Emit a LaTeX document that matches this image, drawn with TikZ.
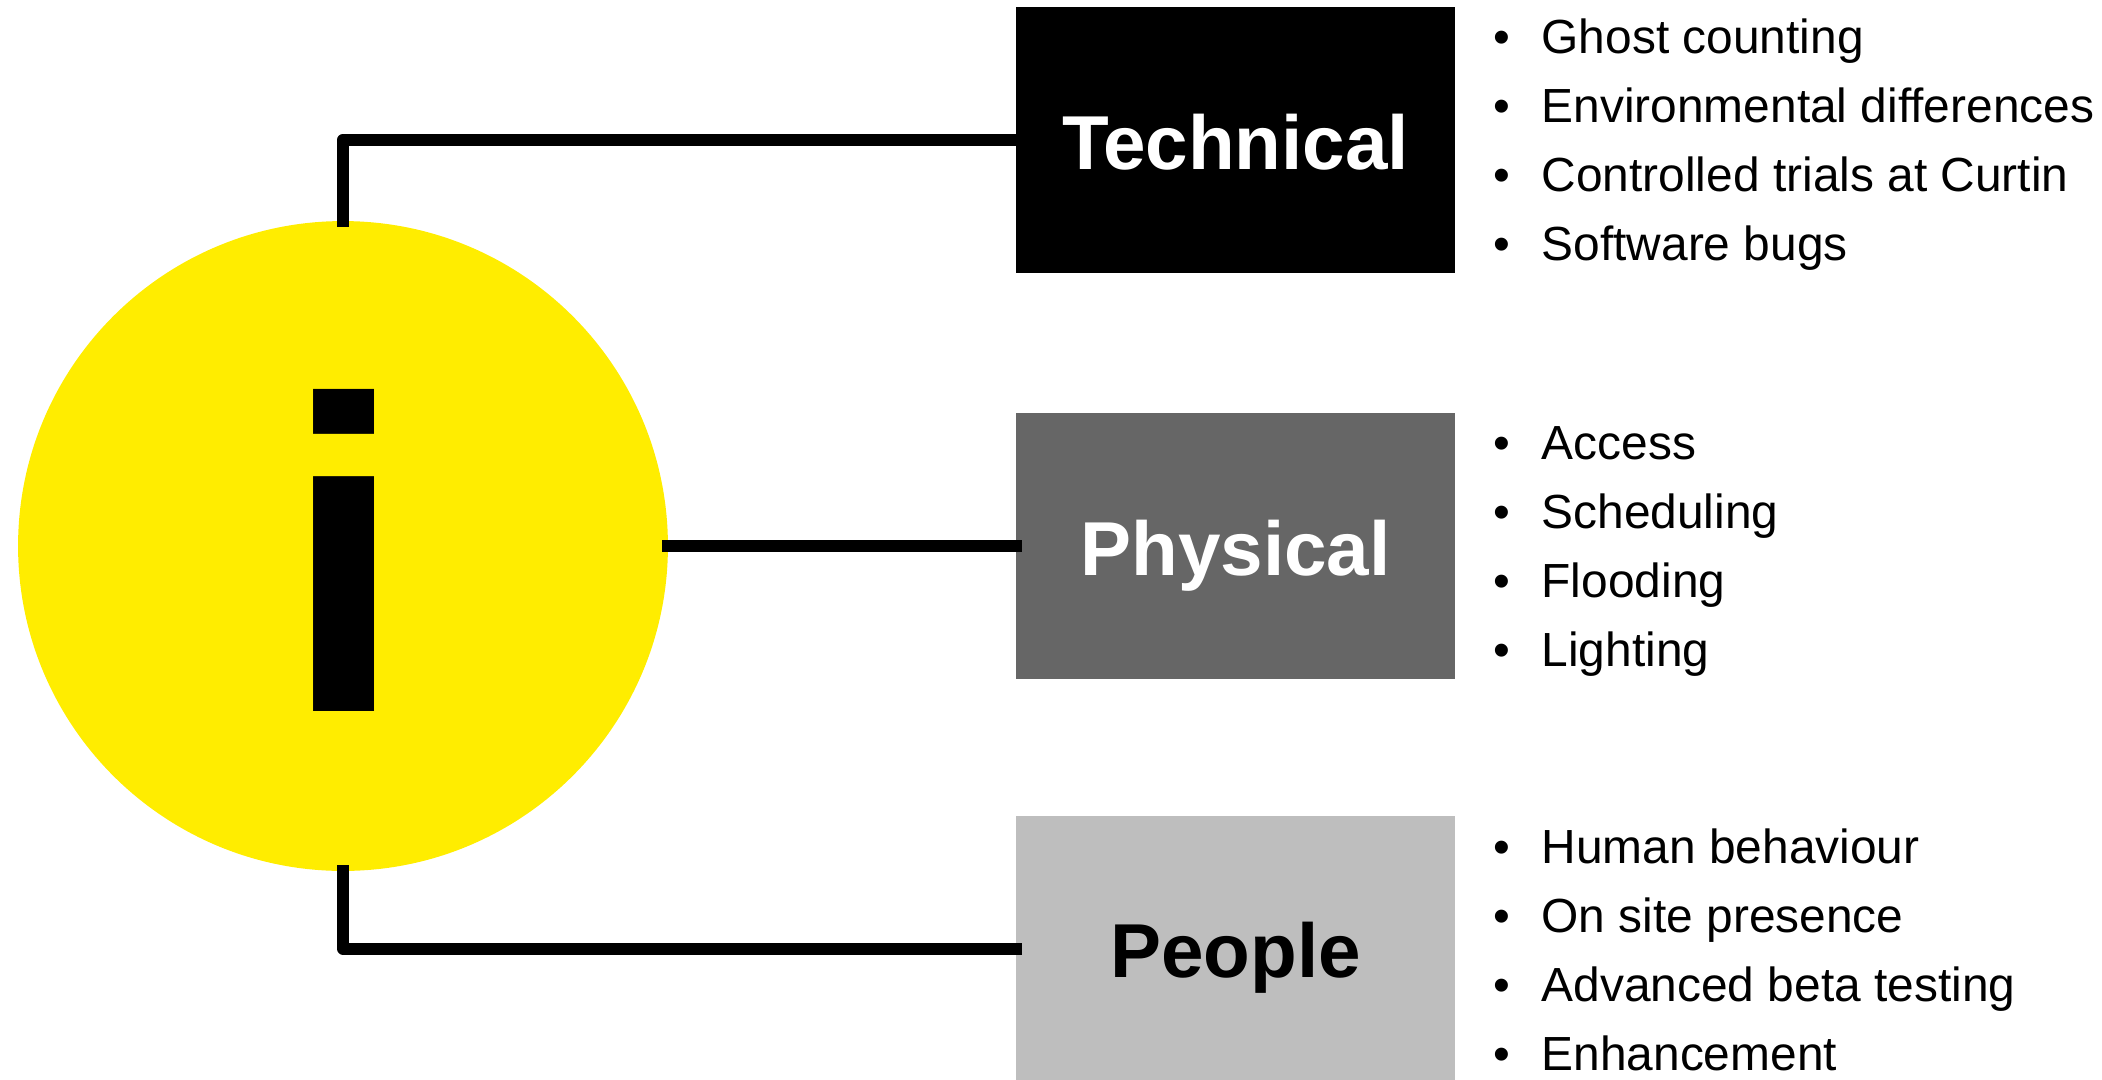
\documentclass[tikz,border=0pt]{standalone}
\usepackage{fontspec}
\usepackage{xcolor}
\setmainfont{Liberation Sans}
\usetikzlibrary{positioning}

\definecolor{signyellow}{HTML}{FFED00}
\definecolor{darkbox}{HTML}{666666}
\definecolor{lightbox}{HTML}{BEBEBE}
\newcommand{\bulletitem}[1]{\makebox[0.96cm][l]{\textbullet}#1}

\tikzset{
    catbox/.style={rectangle,minimum width=8.78cm,minimum height=5.312cm,inner sep=0pt,
        text height=1.5cm,text depth=0.33cm,font=\fontsize{43.5}{43.5}\selectfont\bfseries},
    itemlist/.style={inner sep=0pt,align=left,font=\fontsize{27.25}{39.3}\selectfont},
    link/.style={line width=0.24cm,line join=round,shorten <=-0.12cm,shorten >=-0.12cm}
}

\begin{document}
\begin{tikzpicture}[x=0.02cm,y=-0.02cm]
    \useasboundingbox (0,0) rectangle (2102,1079);

    \node[circle,fill=signyellow,minimum size=13cm,inner sep=0pt] (info) at (343,546) {};
    \node[inner sep=0pt,font=\fontsize{253}{253}\selectfont\bfseries] (mark) at (344,550) {i};

    \node[catbox,fill=black,text=white] (technical) at (1235.5,139.9) {Technical};
    \node[catbox,fill=darkbox,text=white] (physical) at (1235.5,546) {Physical};
    \node[catbox,fill=lightbox,text=black] (people) at (1235.5,948.5) {People};

    \node[itemlist,right=0.76cm of technical,yshift=-0.1cm] (technicallist) {\bulletitem{Ghost counting}\\
        \bulletitem{Environmental differences}\\
        \bulletitem{Controlled trials at Curtin}\\
        \bulletitem{Software bugs}};
    \node[itemlist,right=0.76cm of physical,yshift=-0.116cm] (physicallist) {\bulletitem{Access}\\
        \bulletitem{Scheduling}\\
        \bulletitem{Flooding}\\
        \bulletitem{Lighting}};
    \node[itemlist,right=0.76cm of people,yshift=-0.03cm] (peoplelist) {\bulletitem{Human behaviour}\\
        \bulletitem{On site presence}\\
        \bulletitem{Advanced beta testing}\\
        \bulletitem{Enhancement}};

    \draw[link] (info.north) |- (technical.west);
    \draw[link] (info.east) -- (physical.west);
    \draw[link] (info.south) |- (people.west);
\end{tikzpicture}
\end{document}
